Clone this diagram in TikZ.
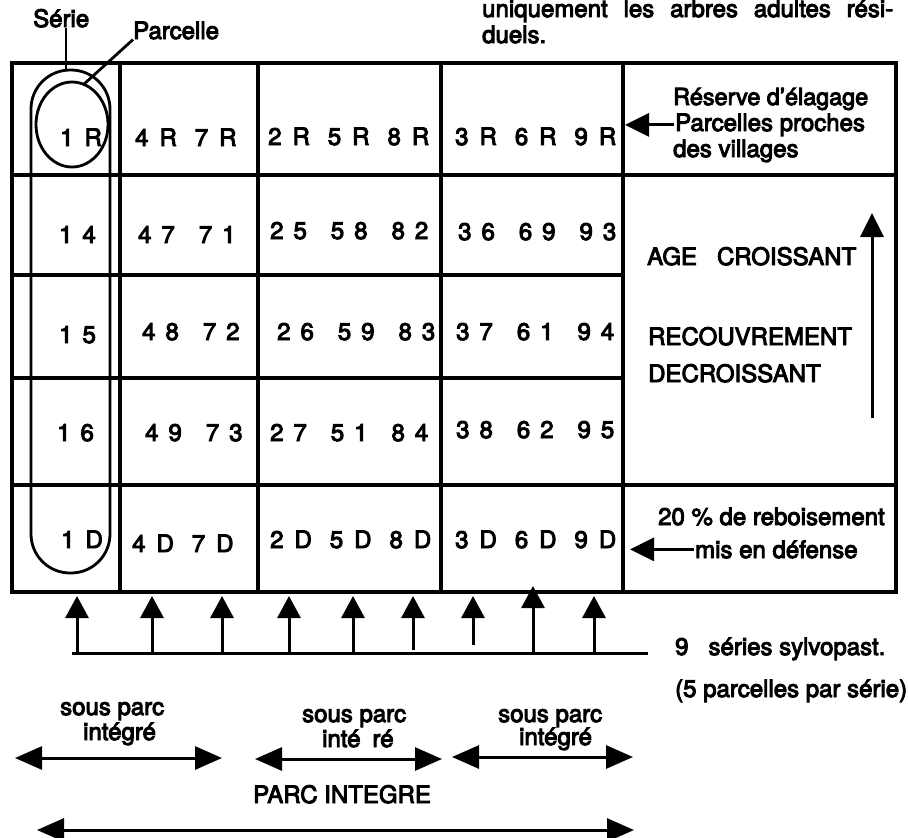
\documentclass[tikz,border=0pt]{standalone}
\usepackage{fontspec}
\setmainfont{TeX Gyre Heros}[FakeBold=4]
\usetikzlibrary{arrows.meta}
\newcommand\np[2]{#1\kern10pt#2}
\newcommand\lp[2]{#1\kern11pt#2}
\newcommand\gn{\kern24pt}
\newcommand\gl{\kern18pt}
\begin{document}
\begin{tikzpicture}[x=1pt,y=-1pt,
  tl/.style={line width=3.8pt},
  txt/.style={inner sep=0pt, anchor=base west, font=\fontsize{24}{28}\selectfont},
  arr/.style={line width=3pt, -{Triangle[length=24pt,width=23pt]}},
  barr/.style={line width=3pt, -{Triangle[length=22pt,width=23pt]}},
  darr/.style={line width=3pt, {Triangle[length=27pt,width=23pt]}-{Triangle[length=27pt,width=23pt]}},
  ln/.style={line width=3pt}]
\useasboundingbox (0,0) rectangle (908,838);
% table
\draw[tl] (12,63) rectangle (896,592);
\draw[tl] (12,175) -- (896,175);
\draw[tl] (12,485) -- (896,485);
\draw[tl] (12,275) -- (623,275);
\draw[tl] (12,378) -- (623,378);
\foreach \x in {120,258,441,623} \draw[tl] (\x,63) -- (\x,592);
% serie and parcelle
\draw[line width=2.8pt, rounded corners=39pt] (31,70) rectangle (110,573);
\draw[line width=2.8pt] (72,124.5) ellipse [x radius=36pt, y radius=42.5pt];
\node[txt] (serie) at (33,27) {Série};
\node[txt] (parc) at (133,39) {Parcelle};
\coordinate (serieEnd) at (66,71);
\coordinate (parcEnd) at (83,85);
\draw[line width=2.4pt] (serieEnd |- serie.south) -- (serieEnd);
\draw[line width=2.8pt] (parc.south west) -- (parcEnd);
% top text
\node[txt] (top1) at (482,17) {\hbox to 411pt{uniquement\hfill les\hfill arbres\hfill adultes\hfill rési-}};
\node[txt] (top2) at (482,43) {duels.};
% row 1
\node[txt] (c11) at (60,146) {\lp{1}{R}};
\node[txt] (c12) at (135,146) {\lp{4}{R}\gl\lp{7}{R}};
\node[txt] (c13) at (268,145) {\lp{2}{R}\gl\lp{5}{R}\gl\lp{8}{R}};
\node[txt] (c14) at (455,145) {\lp{3}{R}\gl\lp{6}{R}\gl\lp{9}{R}};
% row 2
\node[txt] (c21) at (59,243) {\np{1}{4}};
\node[txt] (c22) at (138,243) {\np{4}{7}\gn\np{7}{1}};
\node[txt] (c23) at (270,239) {\np{2}{5}\gn\np{5}{8}\gn\np{8}{2}};
\node[txt] (c24) at (458,240) {\np{3}{6}\gn\np{6}{9}\gn\np{9}{3}};
% row 3
\node[txt] (c31) at (59,343) {\np{1}{5}};
\node[txt] (c32) at (142,340) {\np{4}{8}\gn\np{7}{2}};
\node[txt] (c33) at (277,340) {\np{2}{6}\gn\np{5}{9}\gn\np{8}{3}};
\node[txt] (c34) at (456,340) {\np{3}{7}\gn\np{6}{1}\gn\np{9}{4}};
% row 4
\node[txt] (c41) at (57,441) {\np{1}{6}};
\node[txt] (c42) at (145,441) {\np{4}{9}\gn\np{7}{3}};
\node[txt] (c43) at (270,441) {\np{2}{7}\gn\np{5}{1}\gn\np{8}{4}};
\node[txt] (c44) at (456,438) {\np{3}{8}\gn\np{6}{2}\gn\np{9}{5}};
% row 5
\node[txt] (c51) at (61,548) {\lp{1}{D}};
\node[txt] (c52) at (132,552) {\lp{4}{D}\gl\lp{7}{D}};
\node[txt] (c53) at (270,548) {\lp{2}{D}\gl\lp{5}{D}\gl\lp{8}{D}};
\node[txt] (c54) at (455,548) {\lp{3}{D}\gl\lp{6}{D}\gl\lp{9}{D}};
% right column
\node[txt] (res) at (673,105) {\resizebox{195pt}{!}{Réserve d'élagage}};
\node[txt] (pp) at (675,131) {Parcelles proches};
\node[txt] (vil) at (673,157) {des villages};
\coordinate (a1) at (625,125);
\draw[arr] ([xshift=-1pt]pp.west) -- (pp.west -| a1);
\node[txt] (age) at (647,265) {AGE\hspace{20pt}CROISSANT};
\node[txt] (rec) at (648,345) {RECOUVREMENT};
\node[txt] (dec) at (648,382) {DECROISSANT};
\coordinate (v1) at (872,418);
\coordinate (v2) at (872,213);
\draw[arr] (v1) -- (v2);
\node[txt] (reb) at (658,525) {20 \% de reboisement};
\node[txt] (mis) at (695,558) {mis en défense};
\coordinate (a5) at (630,550);
\draw[arr] ([xshift=-1pt]mis.west) -- (mis.west -| a5);
% bottom arrows
\coordinate (hl) at (72,653);
\coordinate (hr) at (648,653);
\draw[ln] (hl) -- (hr);
\foreach \x/\s/\t [count=\i] in {77/653/596,152/653/596,222/653/596,289/653/596,353/653/596,413/650/596,473/645/596,533/653/586,594/653/596}{
  \coordinate (bs\i) at (\x,\s);
  \coordinate (bt\i) at (\x,\t);
  \draw[barr] (bs\i) -- (bt\i);
}
\node[txt] (ser) at (675,655) {9\hspace{20pt}séries sylvopast.};
\node[txt] (par) at (675,697) {(5 parcelles par série)};
% sub-parks
\node[txt] (sp1) at (60,715) {sous parc};
\node[txt] (in1) at (83,740) {intégré};
\node[txt] (sp2) at (302,722) {sous parc};
\node[txt] (in2) at (322,747) {inté\hspace{12pt}ré};
\node[txt] (sp3) at (498,722) {sous parc};
\node[txt] (in3) at (519,745) {intégré};
\coordinate (d1a) at (15,758); \coordinate (d1b) at (222,758);
\coordinate (d2a) at (255,759); \coordinate (d2b) at (442,759);
\coordinate (d3a) at (452,757); \coordinate (d3b) at (633,757);
\draw[darr] (d1a) -- (d1b);
\draw[darr] (d2a) -- (d2b);
\draw[darr] (d3a) -- (d3b);
\node[txt] (pi) at (253,803) {PARC INTEGRE};
\coordinate (la) at (37,830); \coordinate (lb) at (634,830);
\draw[darr] (la) -- (lb);
\end{tikzpicture}
\end{document}
